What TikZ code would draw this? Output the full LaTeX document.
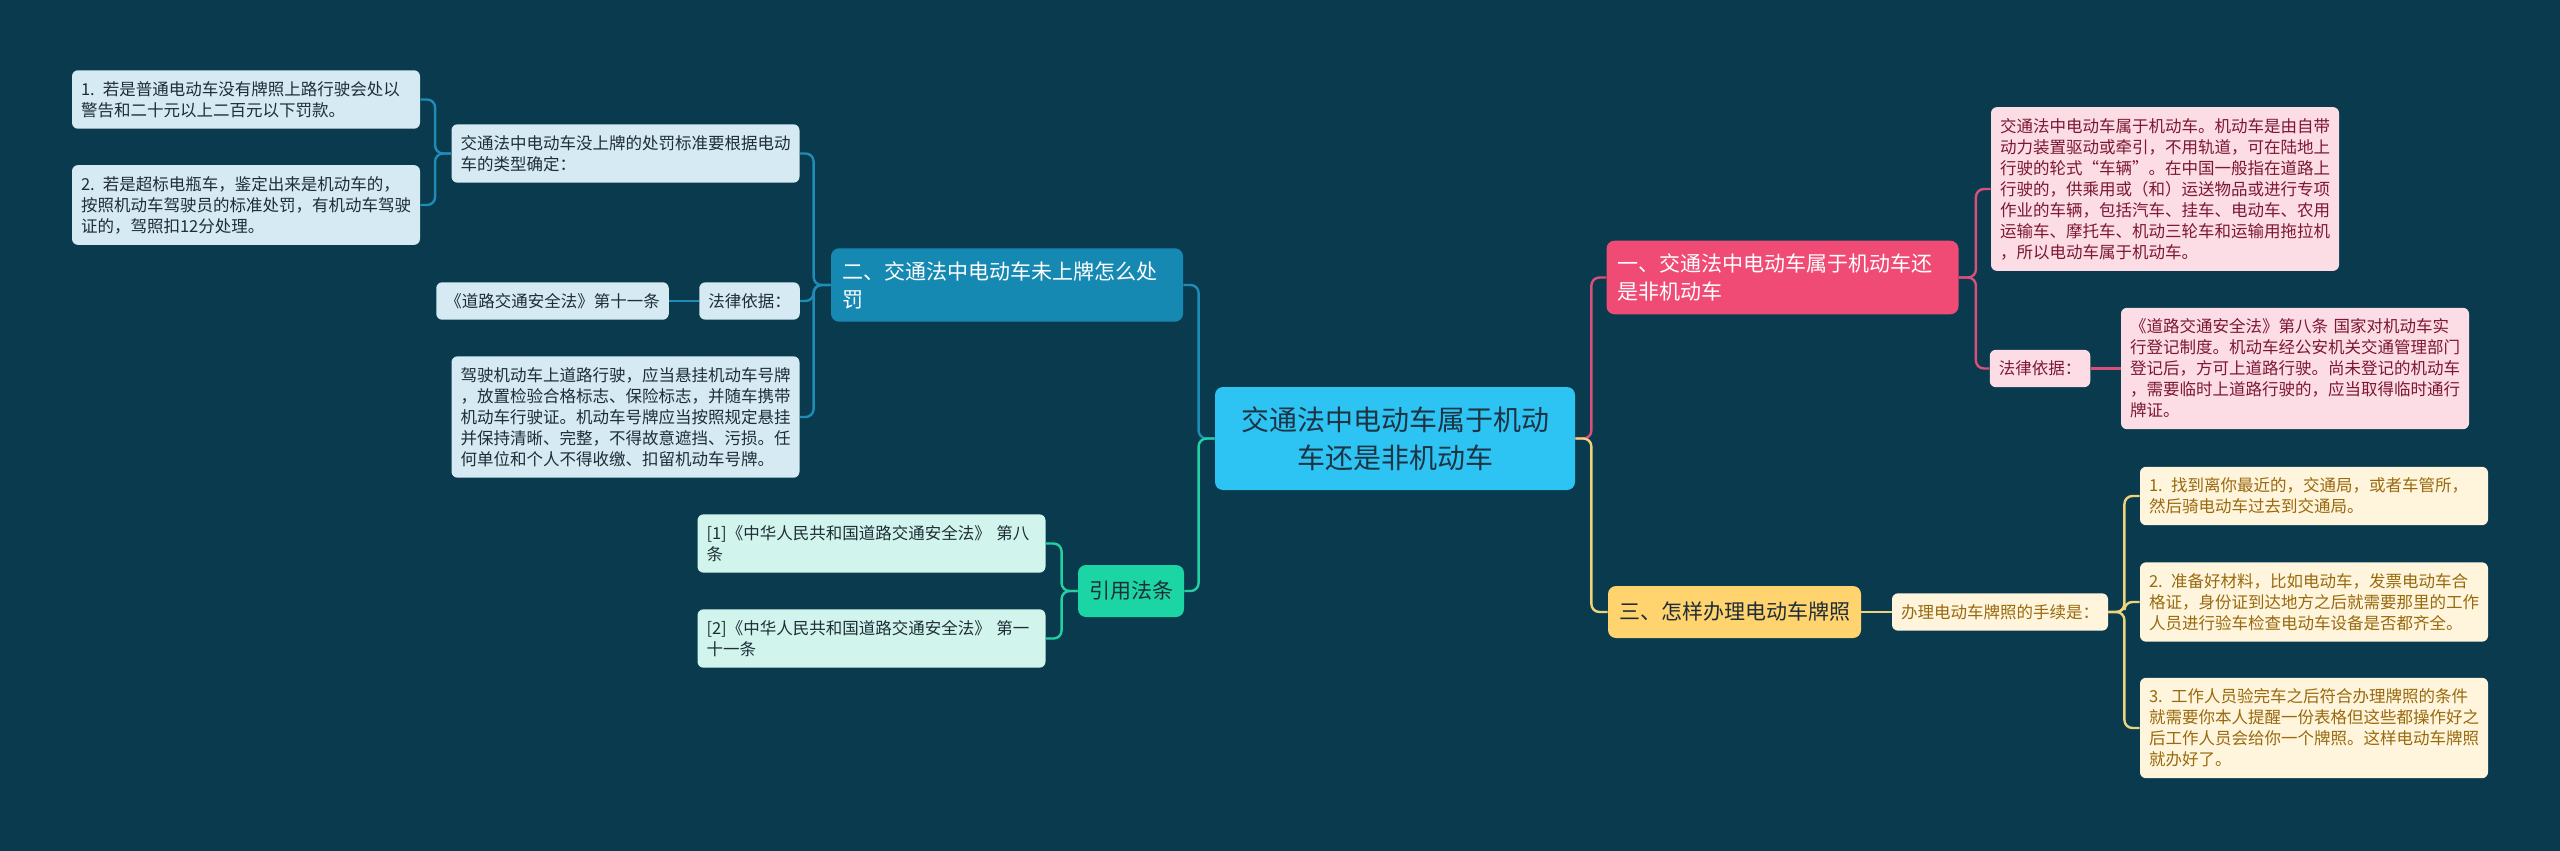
\documentclass[tikz,border=0pt]{standalone}
\usepackage{fontspec}
\setmainfont{Noto Sans CJK SC}
\usepackage{tikz}
\usetikzlibrary{positioning,calc}
\definecolor{Backdrop}{HTML}{093A4D}
\definecolor{RootFill}{HTML}{2DC3F3}
\definecolor{RootInk}{HTML}{1D3444}
\definecolor{BlueMain}{HTML}{1689B3}
\definecolor{BlueSoft}{HTML}{D5EAF2}
\definecolor{BlueLine}{HTML}{1D8CB6}
\definecolor{GreenMain}{HTML}{1BD6A4}
\definecolor{GreenSoft}{HTML}{D1F5EC}
\definecolor{GreenLine}{HTML}{22D1A2}
\definecolor{PinkMain}{HTML}{EF4B74}
\definecolor{PinkSoft}{HTML}{FCDDE5}
\definecolor{PinkLine}{HTML}{D9507A}
\definecolor{PinkInk}{HTML}{7D1733}
\definecolor{GoldMain}{HTML}{FFD36D}
\definecolor{GoldSoft}{HTML}{FFF5DC}
\definecolor{GoldLine}{HTML}{EFD27C}
\definecolor{GoldInk}{HTML}{98690E}
\definecolor{DarkInk}{HTML}{1F2D38}
\tikzset{
  leaf node/.style={rounded corners=3pt,inner xsep=4.5pt,inner ysep=5.5pt,
    align=left,font=\fontsize{8.25pt}{10.5pt}\selectfont},
  wide leaf/.style={leaf node,text width=165pt},
  root node/.style={fill=RootFill,text=RootInk,rounded corners=4pt,align=center,
    minimum width=180pt,minimum height=51.5pt,font=\fontsize{14pt}{18.8pt}\selectfont},
  branch node/.style={rounded corners=4pt,inner xsep=5.5pt,inner ysep=6.5pt,
    minimum height=26pt,align=left,font=\fontsize{10.5pt}{14pt}\selectfont},
  blue leaf/.style={fill=BlueSoft,text=DarkInk},
  green leaf/.style={fill=GreenSoft,text=DarkInk},
  pink leaf/.style={fill=PinkSoft,text=PinkInk},
  gold leaf/.style={fill=GoldSoft,text=GoldInk},
  map link/.style={line width=1.2pt,rounded corners=4pt}
}

\begin{document}
\begin{tikzpicture}[x=0.5pt,y=-0.5pt]
  \useasboundingbox (0,0) rectangle (2560,851);
  \fill[Backdrop] (0,0) rectangle (2560,851);

  \node[root node] (root) at (1395,438.5) {交通法中电动车属于机动\\车还是非机动车};

  % left side
  \node[branch node,fill=BlueMain,text=white,text width=165pt] (unplated) at (1007,285)
    {二、交通法中电动车未上牌怎么处\\罚};
  \node[wide leaf,blue leaf] (penalty) at (625.5,153.5)
    {交通法中电动车没上牌的处罚标准要根据电动\\车的类型确定：};
  \node[wide leaf,blue leaf] (ordinary) at (246,99.5)
    {1. 若是普通电动车没有牌照上路行驶会处以\\警告和二十元以上二百元以下罚款。};
  \node[wide leaf,blue leaf] (oversize) at (246,205)
    {2. 若是超标电瓶车，鉴定出来是机动车的，\\按照机动车驾驶员的标准处罚，有机动车驾驶\\证的，驾照扣12分处理。};
  \node[leaf node,blue leaf] (basisL) at (749.5,301) {法律依据：};
  \node[leaf node,blue leaf] (article11) at (552.5,301) {《道路交通安全法》第十一条};
  \node[wide leaf,blue leaf] (plates) at (625.5,417)
    {驾驶机动车上道路行驶，应当悬挂机动车号牌\\，放置检验合格标志、保险标志，并随车携带\\机动车行驶证。机动车号牌应当按照规定悬挂\\并保持清晰、完整，不得故意遮挡、污损。任\\何单位和个人不得收缴、扣留机动车号牌。};

  \node[branch node,fill=GreenMain,text=DarkInk] (cited) at (1131,591) {引用法条};
  \node[wide leaf,green leaf] (citeA) at (871.5,543.5)
    {[1]《中华人民共和国道路交通安全法》 第八\\条};
  \node[wide leaf,green leaf] (citeB) at (871.5,638.5)
    {[2]《中华人民共和国道路交通安全法》 第一\\十一条};

  % right side
  \node[branch node,fill=PinkMain,text=white,text width=165pt] (motor) at (1782.5,277.5)
    {一、交通法中电动车属于机动车还\\是非机动车};
  \node[wide leaf,pink leaf] (motorText) at (2165,189)
    {交通法中电动车属于机动车。机动车是由自带\\动力装置驱动或牵引，不用轨道，可在陆地上\\行驶的轮式“车辆”。在中国一般指在道路上\\行驶的，供乘用或（和）运送物品或进行专项\\作业的车辆，包括汽车、挂车、电动车、农用\\运输车、摩托车、机动三轮车和运输用拖拉机\\，所以电动车属于机动车。};
  \node[leaf node,pink leaf] (basisR) at (2040,368.5) {法律依据：};
  \node[wide leaf,pink leaf] (article8) at (2295,368.5)
    {《道路交通安全法》第八条 国家对机动车实\\行登记制度。机动车经公安机关交通管理部门\\登记后，方可上道路行驶。尚未登记的机动车\\，需要临时上道路行驶的，应当取得临时通行\\牌证。};

  \node[branch node,fill=GoldMain,text=DarkInk] (license) at (1734.5,612) {三、怎样办理电动车牌照};
  \node[leaf node,gold leaf] (steps) at (2000,612) {办理电动车牌照的手续是：};
  \node[wide leaf,gold leaf] (stepA) at (2314,496)
    {1. 找到离你最近的，交通局，或者车管所，\\然后骑电动车过去到交通局。};
  \node[wide leaf,gold leaf] (stepB) at (2314,602)
    {2. 准备好材料，比如电动车，发票电动车合\\格证，身份证到达地方之后就需要那里的工作\\人员进行验车检查电动车设备是否都齐全。};
  \node[wide leaf,gold leaf] (stepC) at (2314,728)
    {3. 工作人员验完车之后符合办理牌照的条件\\就需要你本人提醒一份表格但这些都操作好之\\后工作人员会给你一个牌照。这样电动车牌照\\就办好了。};

  % connectors
  \draw[map link,BlueLine] (root.west) -- ++(-8pt,0) |- (unplated.east);
  \draw[map link,GreenLine] (root.west) -- ++(-8pt,0) |- (cited.east);
  \draw[map link,PinkLine] (root.east) -- ++(8pt,0) |- (motor.west);
  \draw[map link,GoldLine] (root.east) -- ++(8pt,0) |- (license.west);

  \draw[map link,BlueLine] (unplated.west) -- ++(-8.5pt,0) |- (penalty.east);
  \draw[map link,BlueLine] (unplated.west) -- ++(-8.5pt,0) |- (basisL.east);
  \draw[map link,BlueLine] (unplated.west) -- ++(-8.5pt,0) |- (plates.east);
  \draw[map link,BlueLine] (penalty.west) -- ++(-8pt,0) |- (ordinary.east);
  \draw[map link,BlueLine] (penalty.west) -- ++(-8pt,0) |- (oversize.east);
  \draw[map link,BlueLine] (basisL.west) -- (article11.east);

  \draw[map link,GreenLine] (cited.west) -- ++(-8pt,0) |- (citeA.east);
  \draw[map link,GreenLine] (cited.west) -- ++(-8pt,0) |- (citeB.east);

  \draw[map link,PinkLine] (motor.east) -- ++(8.5pt,0) |- (motorText.west);
  \draw[map link,PinkLine] (motor.east) -- ++(8.5pt,0) |- (basisR.west);
  \draw[map link,PinkLine] (basisR.east) -- (article8.west);

  \draw[map link,GoldLine] (license.east) -- (steps.west);
  \draw[map link,GoldLine] (steps.east) -- ++(8pt,0) |- (stepA.west);
  \draw[map link,GoldLine] (steps.east) -- ++(8pt,0) |- (stepB.west);
  \draw[map link,GoldLine] (steps.east) -- ++(8pt,0) |- (stepC.west);
\end{tikzpicture}
\end{document}
